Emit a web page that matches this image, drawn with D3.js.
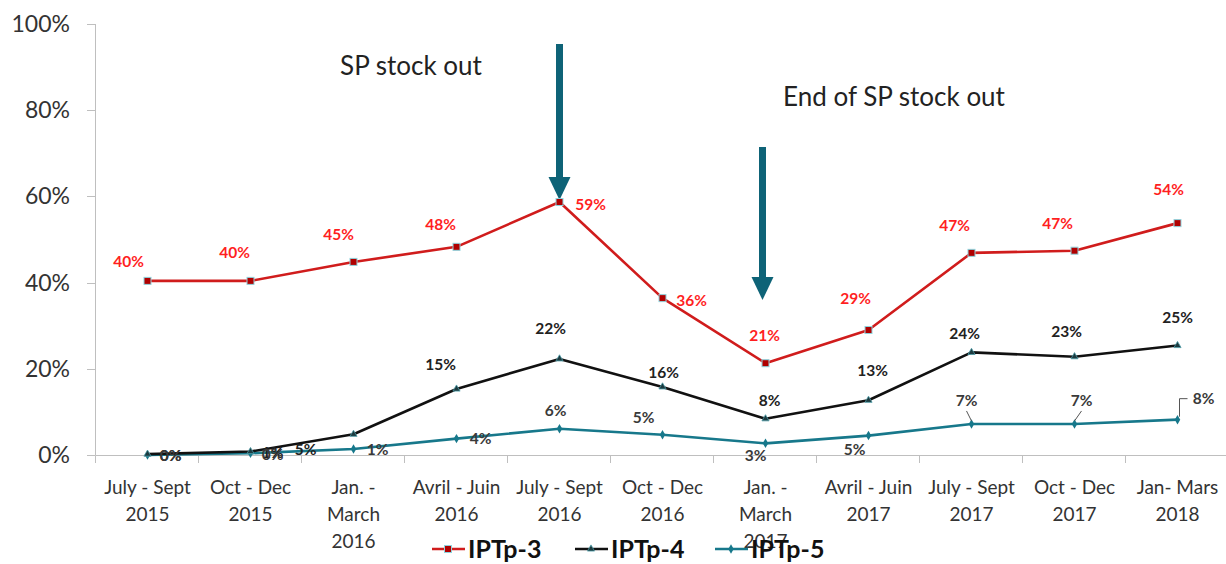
<!DOCTYPE html>
<html>
<head>
<meta charset="utf-8">
<script src="https://cdn.jsdelivr.net/npm/d3@7"></script>
<style>
  body { margin: 0; background: #fff; }
  svg { display: block; font-family: Lato, "Open Sans", sans-serif; }
</style>
</head>
<body>
<script>
// categories (quarters), one line per label row
var categories = [
    "July - Sept|2015", "Oct - Dec|2015", "Jan. -|March|2016", "Avril - Juin|2016",
    "July - Sept|2016", "Oct - Dec|2016", "Jan. -|March|2017", "Avril - Juin|2017",
    "July - Sept|2017", "Oct - Dec|2017", "Jan- Mars|2018"
];

// series values in percent
var iptp3 = [40.4, 40.4, 44.8, 48.3, 58.7, 36.4, 21.3, 29.0, 46.9, 47.4, 53.8];
var iptp4 = [0.2, 0.8, 4.8, 15.3, 22.3, 15.8, 8.4, 12.7, 23.8, 22.8, 25.4];
var iptp5 = [0.0, 0.4, 1.4, 3.8, 6.1, 4.7, 2.7, 4.5, 7.2, 7.2, 8.2];

var yTicks = [0, 20, 40, 60, 80, 100];
var seriesNames = ["IPTp-3", "IPTp-4", "IPTp-5"];

// annotations: text and the quarter the arrow points to
var notes = [
    { text: "SP stock out", index: 4 },
    { text: "End of SP stock out", index: 6 }
];

// label offsets (dx, dy) from each point, as placed in the original
var offsets3 = [[-19,-19],[-16,-28],[-15,-27],[-16,-22],[31,3],[29,2],[-1,-28],[-13,-31],[-17,-27],[-17,-27],[-9,-34]];
var offsets4 = [[23,1],[22,1],[-48,15],[-16,-24],[-9,-30],[1,-14],[4,-18],[4,-30],[-7,-19],[-8,-25],[0,-28]];
var offsets5 = [[23,1],[22,1],[24,1],[24,0],[-4,-18],[-19,-17],[-10,12],[-14,14],[-5,-23],[7,-23],[26,-21]];

var width = 1226, height = 564;
var svg = d3.select("body").append("svg")
    .attr("width", width)
    .attr("height", height);

// set the ranges
var x = d3.scaleBand().domain(d3.range(categories.length)).range([96, 1229]).paddingInner(0);
var y = d3.scaleLinear().domain([0, 100]).range([455, 24]);
function px(i) { return x(i) + x.bandwidth() / 2; }

var axisColor = "#bfbfbf";

// y axis
svg.append("line")
    .attr("x1", 95.5).attr("x2", 95.5)
    .attr("y1", y(100)).attr("y2", y(0))
    .attr("stroke", axisColor).attr("stroke-width", 1);
yTicks.forEach(function (t) {
    svg.append("line")
        .attr("x1", 87).attr("x2", 95.5)
        .attr("y1", Math.round(y(t)) + 0.5).attr("y2", Math.round(y(t)) + 0.5)
        .attr("stroke", axisColor);
    svg.append("text")
        .attr("x", 70).attr("y", y(t))
        .attr("dy", "0.35em")
        .attr("text-anchor", "end")
        .attr("font-size", 23)
        .attr("fill", "#333")
        .text(t + "%");
});

// x axis
svg.append("line")
    .attr("x1", 95.5).attr("x2", width)
    .attr("y1", 455.5).attr("y2", 455.5)
    .attr("stroke", axisColor);
d3.range(categories.length + 1).forEach(function (i) {
    var bx = Math.round(96 + i * x.bandwidth()) - 0.5;
    svg.append("line")
        .attr("x1", bx).attr("x2", bx)
        .attr("y1", 455.5).attr("y2", 463)
        .attr("stroke", axisColor);
});
categories.forEach(function (c, i) {
    var t = svg.append("text")
        .attr("x", px(i)).attr("y", 494)
        .attr("text-anchor", "middle")
        .attr("font-size", 19)
        .attr("fill", "#333");
    c.split("|").forEach(function (line, k) {
        t.append("tspan")
            .attr("x", px(i))
            .attr("dy", k === 0 ? 0 : 27)
            .text(line);
    });
});

// arrows and notes
var arrowColor = "#0e6377";
function arrow(cx, top, tipY) {
    svg.append("rect")
        .attr("x", cx - 3.5).attr("y", top)
        .attr("width", 7).attr("height", tipY - 22 - top)
        .attr("fill", arrowColor);
    svg.append("path")
        .attr("d", "M" + (cx - 11) + "," + (tipY - 23) + "L" + (cx + 11) + "," + (tipY - 23) + "L" + cx + "," + tipY + "Z")
        .attr("fill", arrowColor);
}
arrow(px(notes[0].index), 44, 200);
arrow(px(notes[1].index) - 3, 147, 300);
svg.append("text")
    .attr("x", 411).attr("y", 66).attr("dy", "0.35em")
    .attr("text-anchor", "middle")
    .attr("font-size", 26).attr("fill", "#222")
    .text(notes[0].text);
svg.append("text")
    .attr("x", 894).attr("y", 97).attr("dy", "0.35em")
    .attr("text-anchor", "middle")
    .attr("font-size", 26).attr("fill", "#222")
    .text(notes[1].text);

// series
var series = [
    { name: seriesNames[0], values: iptp3, color: "#d01c1c", label: "#ff1f1f", offsets: offsets3, marker: "square" },
    { name: seriesNames[1], values: iptp4, color: "#111111", label: "#222222", offsets: offsets4, marker: "triangle" },
    { name: seriesNames[2], values: iptp5, color: "#17788b", label: "#3a3a3a", offsets: offsets5, marker: "diamond" }
];

var line = d3.line()
    .x(function (d, i) { return px(i); })
    .y(function (d) { return y(d); });

function drawMarker(g, type, cx, cy) {
    if (type === "square") {
        g.append("rect")
            .attr("x", cx - 3.5).attr("y", cy - 3.5)
            .attr("width", 7).attr("height", 7)
            .attr("fill", "#b00000").attr("stroke", "#8fd3dd").attr("stroke-width", 1);
    } else if (type === "triangle") {
        g.append("path")
            .attr("d", d3.symbol().type(d3.symbolTriangle).size(22))
            .attr("transform", "translate(" + cx + "," + cy + ")")
            .attr("fill", "#1d3b40").attr("stroke", "#4b9aa6").attr("stroke-width", 0.8);
    } else {
        g.append("path")
            .attr("d", d3.symbol().type(d3.symbolDiamond).size(26))
            .attr("transform", "translate(" + cx + "," + cy + ")")
            .attr("fill", "#17788b");
    }
}

// draw lines back to front: IPTp-5, IPTp-4, IPTp-3
series.slice().reverse().forEach(function (s) {
    svg.append("path")
        .attr("d", line(s.values))
        .attr("fill", "none")
        .attr("stroke", s.color)
        .attr("stroke-width", 2.6)
        .attr("stroke-linejoin", "round");
    var g = svg.append("g");
    s.values.forEach(function (v, i) {
        drawMarker(g, s.marker, px(i), y(v));
    });
});

// leader lines for IPTp-5 labels on the right
var lead = svg.append("g").attr("stroke", "#555").attr("stroke-width", 1).attr("fill", "none");
lead.append("path").attr("d", "M" + (px(8) - 5) + "," + (y(iptp5[8]) - 13) + "L" + px(8) + "," + (y(iptp5[8]) - 3));
lead.append("path").attr("d", "M" + (px(9) + 7) + "," + (y(iptp5[9]) - 13) + "L" + px(9) + "," + (y(iptp5[9]) - 3));
lead.append("path").attr("d", "M" + (px(10) + 10) + "," + (y(iptp5[10]) - 21) + "H" + (px(10) + 2) + "V" + (y(iptp5[10]) - 3));

// data labels
series.forEach(function (s) {
    s.values.forEach(function (v, i) {
        svg.append("text")
            .attr("x", px(i) + s.offsets[i][0])
            .attr("y", y(v) + s.offsets[i][1])
            .attr("dy", "0.35em")
            .attr("text-anchor", "middle")
            .attr("font-size", 15.5)
            .attr("font-weight", "bold")
            .attr("fill", s.label)
            .text(Math.round(v) + "%");
    });
});

// legend
var legendX = [432, 575, 715];
series.forEach(function (s, i) {
    var lx = legendX[i], ly = 549;
    svg.append("line")
        .attr("x1", lx).attr("x2", lx + 33)
        .attr("y1", ly).attr("y2", ly)
        .attr("stroke", s.color).attr("stroke-width", 2.6);
    drawMarker(svg, s.marker, lx + 16, ly);
    svg.append("text")
        .attr("x", lx + 36).attr("y", ly)
        .attr("dy", "0.35em")
        .attr("font-size", 25)
        .attr("font-weight", "bold")
        .attr("fill", "#111")
        .text(s.name);
});
</script>
</body>
</html>
